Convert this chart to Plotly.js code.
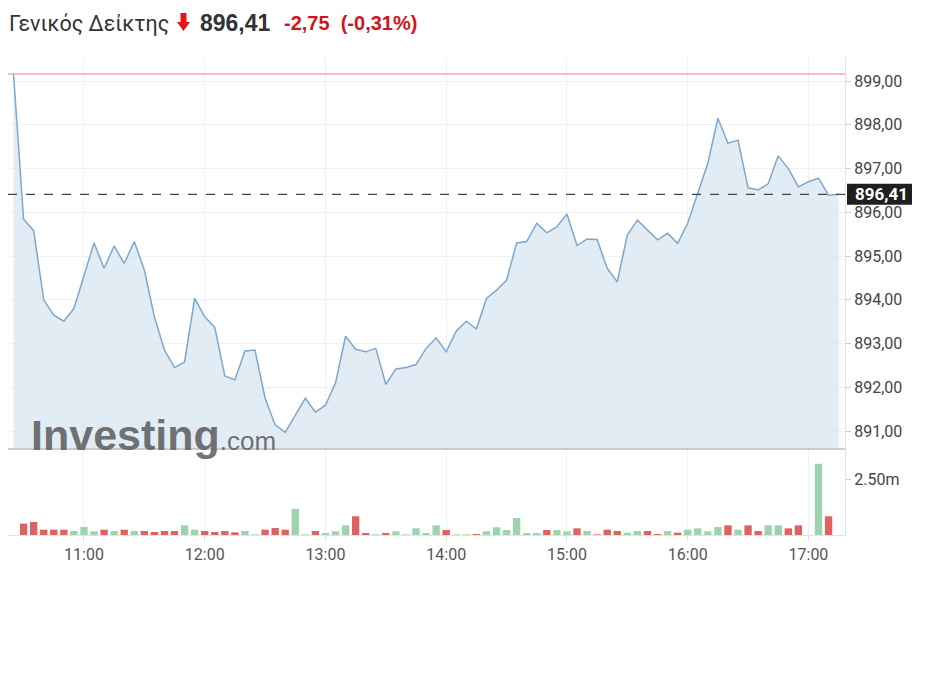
<!DOCTYPE html>
<html>
<head>
<meta charset="utf-8">
<script src="https://cdn.plot.ly/plotly-3.0.1.min.js"></script>
<style>html,body{margin:0;padding:0;background:#fff;}#chart{width:926px;height:673px;}</style>
</head>
<body>
<div id="chart"></div>
<script>
var day = "2024-01-01 ";
var times = ["10:25","10:30","10:35","10:40","10:45","10:50","10:55",
"11:00","11:05","11:10","11:15","11:20","11:25","11:30","11:35","11:40","11:45","11:50","11:55",
"12:00","12:05","12:10","12:15","12:20","12:25","12:30","12:35","12:40","12:45","12:50","12:55",
"13:00","13:05","13:10","13:15","13:20","13:25","13:30","13:35","13:40","13:45","13:50","13:55",
"14:00","14:05","14:10","14:15","14:20","14:25","14:30","14:35","14:40","14:45","14:50","14:55",
"15:00","15:05","15:10","15:15","15:20","15:25","15:30","15:35","15:40","15:45","15:50","15:55",
"16:00","16:05","16:10","16:15","16:20","16:25","16:30","16:35","16:40","16:45","16:50","16:55",
"17:00","17:05","17:10","17:15"];
var prices = [899.16,895.84,895.58,894.00,893.65,893.51,893.80,
894.55,895.30,894.72,895.23,894.83,895.33,894.68,893.61,892.85,892.45,892.58,894.03,
893.61,893.37,892.26,892.17,892.83,892.85,891.75,891.14,890.97,891.37,891.75,891.43,
891.59,892.10,893.17,892.87,892.81,892.89,892.07,892.42,892.45,892.52,892.89,893.13,
892.81,893.29,893.51,893.33,894.03,894.22,894.45,895.30,895.33,895.75,895.53,895.67,
895.96,895.24,895.39,895.38,894.72,894.41,895.48,895.82,895.59,895.37,895.52,895.29,
895.75,896.43,897.12,898.15,897.58,897.65,896.56,896.51,896.65,897.29,897.00,896.58,
896.70,896.78,896.39,896.41];
var volumes = [null,515000,591000,242000,242000,242000,182000,
364000,167000,242000,182000,242000,182000,182000,136000,182000,182000,439000,242000,
182000,136000,182000,121000,182000,30000,242000,318000,242000,1182000,30000,182000,
91000,167000,439000,848000,91000,30000,91000,167000,30000,303000,91000,439000,
227000,30000,30000,45000,167000,348000,227000,773000,91000,91000,227000,227000,
167000,303000,182000,30000,242000,182000,106000,182000,182000,45000,182000,106000,
242000,303000,167000,364000,439000,242000,439000,182000,439000,439000,303000,439000,
0,3227000,848000,null];
var priceTicks = [891,892,893,894,895,896,897,898,899];
var volTicks = [2500000];
var volTickText = ["2.50m"];
var prevClose = 899.16;
var lastPrice = 896.41;
var titleName = "Γενικός Δείκτης";
var lastText = "896,41";
var changeText = "-2,75";
var changePctText = "(-0,31%)";

var x = times.map(function(t){return day + t;});
var barColors = prices.map(function(p,i){
  if (i === 0) return "#df6262";
  return p > prices[i-1] ? "#9dd3ae" : "#df6262";
});
var fmt = function(v){return v.toFixed(2).replace(".", ",");};

var traces = [
  {x: x, y: prices, type: "scatter", mode: "lines", xaxis: "x", yaxis: "y",
   line: {color: "#7ea7cd", width: 1.5}, fill: "tozeroy", fillcolor: "rgba(214,228,240,0.7)",
   hoverinfo: "skip"},
  {x: x, y: volumes, type: "bar", xaxis: "x", yaxis: "y2",
   marker: {color: barColors}, hoverinfo: "skip"}
];

var font = "Roboto, 'Liberation Sans', Arial, sans-serif";
var arial = "'Liberation Sans', Arial, sans-serif";
var W = 837; // plot width in px
function px(p){ return (p - 8) / W; }
var titleY = 1.0711;

var layout = {
  width: 926, height: 673,
  margin: {l: 8, r: 81, t: 57, b: 138},
  paper_bgcolor: "#fff", plot_bgcolor: "#fff",
  showlegend: false,
  bargap: 0.27,
  font: {family: font},
  xaxis: {
    type: "date", anchor: "y2", domain: [0, 1],
    range: [day + "10:22:15", day + "17:18:10"],
    tick0: day + "11:00", dtick: 3600000, tickformat: "%H:%M",
    showgrid: true, gridcolor: "#f1f1f1", gridwidth: 1,
    ticks: "outside", ticklen: 5, tickcolor: "#dcdcdc",
    showline: true, linecolor: "#e3e3e3", linewidth: 1,
    tickfont: {family: font, size: 16, color: "#555"},
    zeroline: false, fixedrange: true
  },
  yaxis: {
    domain: [0.18, 1], anchor: "x", side: "right",
    range: [890.59, 899.55],
    tickvals: priceTicks, ticktext: priceTicks.map(fmt),
    showgrid: true, gridcolor: "#f1f1f1",
    showline: true, linecolor: "#e3e3e3", linewidth: 1,
    ticks: "outside", ticklen: 5, tickcolor: "#cfcfcf",
    tickfont: {family: font, size: 16, color: "#444"},
    zeroline: false
  },
  yaxis2: {
    domain: [0, 0.18], anchor: "x", side: "right",
    range: [0, 3900000],
    tickvals: volTicks, ticktext: volTickText,
    showgrid: false,
    showline: true, linecolor: "#e3e3e3", linewidth: 1,
    ticks: "outside", ticklen: 5, tickcolor: "#cfcfcf",
    tickfont: {family: font, size: 16, color: "#444"},
    zeroline: false
  },
  shapes: [
    {type: "line", xref: "paper", x0: 0, x1: 1, yref: "y", y0: prevClose, y1: prevClose,
     line: {color: "#f5a9a9", width: 1.5}},
    {type: "line", xref: "paper", x0: 0, x1: 1, yref: "y", y0: lastPrice, y1: lastPrice,
     line: {color: "#444", width: 1.3, dash: "dash"}},
    {type: "line", xref: "paper", x0: 0, x1: 1, yref: "y domain", y0: 0, y1: 0,
     line: {color: "#bdbdbd", width: 1.5}},
    // last price label box
    {type: "rect", xref: "paper", xsizemode: "pixel", xanchor: 1, x0: 2, x1: 67,
     yref: "y", ysizemode: "pixel", yanchor: lastPrice, y0: -10.5, y1: 10.5,
     fillcolor: "#1f1f1f", line: {width: 0}},
    // red down arrow in the header
    {type: "path", xref: "paper", xsizemode: "pixel", xanchor: 0,
     yref: "paper", ysizemode: "pixel", yanchor: 1,
     path: "M 172.5 44 L 178.5 44 L 178.5 35 L 182 35 L 175.5 26 L 169 35 L 172.5 35 Z",
     fillcolor: "#e3141c", line: {width: 0}}
  ],
  annotations: [
    {xref: "paper", yref: "paper", x: px(7), y: titleY, xanchor: "left", yanchor: "middle",
     showarrow: false, text: titleName,
     font: {family: font, size: 21.5, color: "#333"}},
    {xref: "paper", yref: "paper", x: px(198), y: titleY, xanchor: "left", yanchor: "middle",
     showarrow: false, text: "<b>" + lastText + "</b>",
     font: {family: arial, size: 23, color: "#333"}},
    {xref: "paper", yref: "paper", x: px(282), y: titleY, xanchor: "left", yanchor: "middle",
     showarrow: false, text: "<b>" + changeText + "  " + changePctText + "</b>",
     font: {family: arial, size: 20, color: "#d3141c"}},
    {xref: "paper", yref: "y", x: 1, y: lastPrice, xanchor: "left", yanchor: "middle",
     xshift: 8, showarrow: false, text: "<b>" + lastText + "</b>",
     font: {family: font, size: 17, color: "#fff"}},
    {xref: "paper", yref: "paper", x: 0.025, y: 0.155, xanchor: "left", yanchor: "bottom",
     showarrow: false,
     text: "<b>Investing</b><span style='font-size:26px'>.com</span>",
     font: {family: arial, size: 43, color: "rgba(95,95,95,0.9)"}}
  ]
};

Plotly.newPlot("chart", traces, layout, {displayModeBar: false, staticPlot: true});
</script>
</body>
</html>
